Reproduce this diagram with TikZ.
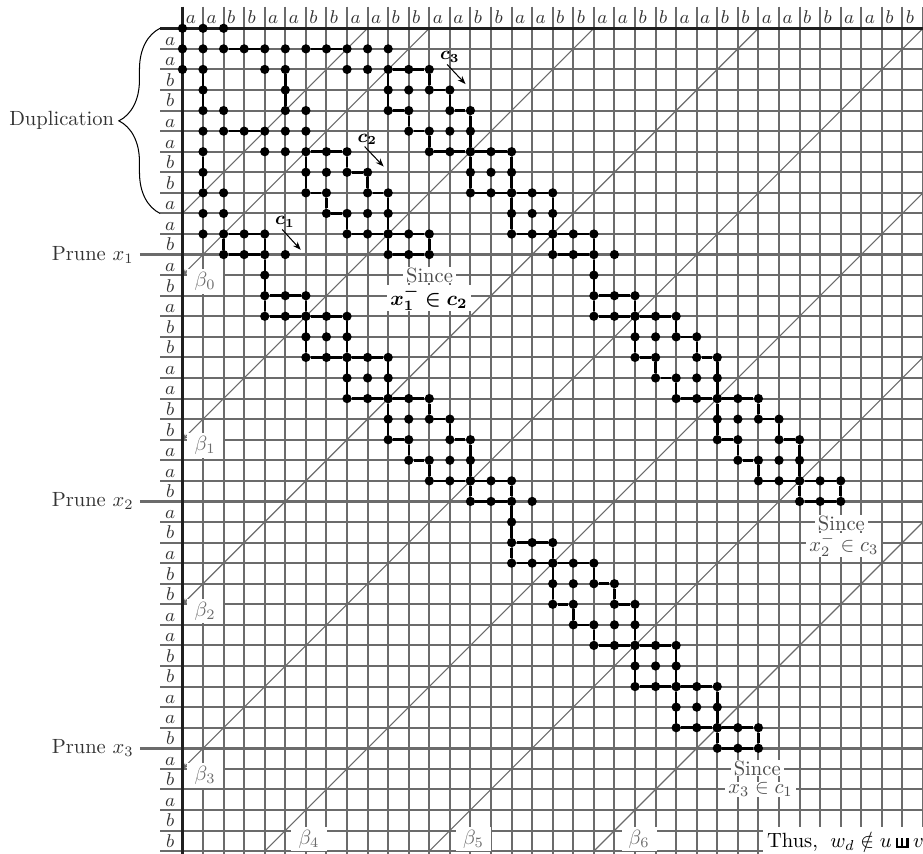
\documentclass[tikz,border=0pt]{standalone}
\usepackage{bm}
\usetikzlibrary{decorations.pathreplacing,arrows.meta}
\newcommand{\shuf}{\mathbin{\hbox{\rule{1pt}{4.8pt}\kern1.5pt\rule{1pt}{4.8pt}\kern1.5pt\rule{1pt}{4.8pt}\kern-6pt\rule{6pt}{1pt}}}}
\newcommand{\blk}[4]{%
  \foreach \ua/\va in {#3}{%
    \pgfmathtruncatemacro{\xx}{#1+\ua}\pgfmathtruncatemacro{\yy}{#2+\va}%
    \node[dot] (p\xx-\yy) at (\xx,\yy) {};}%
  \foreach \ua/\va/\ub/\vb in {#4}{%
    \pgfmathtruncatemacro{\xa}{#1+\ua}\pgfmathtruncatemacro{\ya}{#2+\va}%
    \pgfmathtruncatemacro{\xb}{#1+\ub}\pgfmathtruncatemacro{\yb}{#2+\vb}%
    \draw[edg] (p\xa-\ya) -- (p\xb-\yb);}%
}
\newcommand{\blkW}[2]{\blk{#1}{#2}{0/0,1/0,2/0,0/1,1/1,2/1,3/1,0/2,1/2,3/2,4/2,1/3,2/3,3/3,4/3,2/4,3/4,4/4}{0/0/2/0,2/1/3/1,0/2/1/2,3/2/4/2,1/3/2/3,2/4/4/4,0/0/0/2,1/2/1/3,2/0/2/1,2/3/2/4,3/1/3/2,4/2/4/4}}
\newcommand{\blkS}[2]{\blk{#1}{#2}{0/0,1/0,2/0,0/1,1/1,2/1,0/2,1/2,2/2}{0/0/2/0,0/2/2/2,0/0/0/2,2/0/2/2}}
\newcommand{\blkE}[2]{\blk{#1}{#2}{0/0,1/0,2/0,0/1,1/1,2/1}{0/0/2/0,0/1/2/1,0/0/0/1,2/0/2/1}}
\begin{document}
\begin{tikzpicture}[x=10pt,y=-10pt,
  gridln/.style={line width=1pt, black!58},
  prune/.style={line width=1.6pt, black!58},
  border/.style={line width=1.6pt, black!88},
  diag/.style={line width=0.55pt, black!58},
  edg/.style={line width=1.2pt, black},
  dot/.style={circle, fill=black, inner sep=0pt, minimum size=4.5pt},
  lett/.style={inner sep=0pt, font=\small, text=black!80},
  betalab/.style={fill=white, text=black!58, inner xsep=3.5pt, inner ysep=1.5pt},
  since/.style={fill=white, text=black!70, inner xsep=1.5pt, inner ysep=0.2pt},
  clab/.style={inner sep=1pt, font=\small},
  carrow/.style={-{Stealth[length=4pt,width=3pt]}, line width=0.5pt},
  sidetext/.style={text=black!80, inner sep=1pt},
]
\useasboundingbox (-8.87,-1.375) rectangle (36,40.12);
% grid
\foreach \r in {1,...,40} \draw[gridln] (-1.09,\r) -- (36.3,\r);
\foreach \c in {1,...,36} \draw[gridln] (\c,-1.05) -- (\c,40.3);
% diagonals
\draw[diag] (9,0) -- (0,9);
\foreach \s in {12,20,28,36} \draw[diag,-{Stealth[length=3pt,width=2.4pt]}] (\s,0) -- (0,\s);
\draw[diag] (36,8) -- (4,40);
\draw[diag] (36,16) -- (12,40);
\draw[diag] (36,24) -- (20,40);
% prune lines and borders
\foreach \r in {11,23,35} \draw[prune] (-2.07,\r) -- (36.3,\r);
\draw[border] (-1.09,0) -- (36.3,0);
\draw[border] (0,-1.05) -- (0,40.3);
% top letters
\foreach \L [count=\i from 0] in {a,a,b,b,a,a,b,b,a,a,b,b,a,a,b,b,a,a,b,b,a,a,b,b,a,a,b,b,a,a,b,b,a,a,b,b}
  \node[lett, anchor=base west] (tp\i) at (\i+0.15,-0.25) {$\L$};
% left letters
\foreach \L [count=\i] in {a,a,b,b,a,a,b,b,a,a,b, a,b,a,b,b,a,a,b,b,a,a,b, a,b,a,b,b,a,a,b,b,a,a,b, a,b,a,b,b}
  \node[lett, anchor=base] (lf\i) at (-0.6,\i-0.18) {$\L$};
% brace and side labels
\draw[decorate, decoration={brace, amplitude=20pt}, line width=0.5pt] (-1.09,9) -- (-1.09,0);
\node[sidetext, anchor=east] (dup) at (-3.2,4.5) {Duplication};
\node[sidetext, anchor=east] (pr1) at (-2.25,11) {Prune $x_1$};
\node[sidetext, anchor=east] (pr2) at (-2.25,23) {Prune $x_2$};
\node[sidetext, anchor=east] (pr3) at (-2.25,35) {Prune $x_3$};
% beta labels
\node[betalab] (b0) at (1.1,12.3) {$\beta_0$};
\node[betalab] (b1) at (1.1,20.28) {$\beta_1$};
\node[betalab] (b2) at (1.1,28.33) {$\beta_2$};
\node[betalab] (b3) at (1.1,36.33) {$\beta_3$};
\node[betalab] (b4) at (6.15,39.42) {$\beta_4$};
\node[betalab] (b5) at (14.15,39.42) {$\beta_5$};
\node[betalab] (b6) at (22.2,39.42) {$\beta_6$};
% top-left cluster
\blk{0}{0}{0/0,1/0,2/0,0/1,1/1,2/1,3/1,4/1,5/1,6/1,7/1,8/1,9/1,10/1,0/2,1/2,4/2,5/2,8/2,9/2,1/3,5/3,1/4,2/4,5/4,6/4,1/5,2/5,3/5,4/5,5/5,6/5,1/6,4/6,5/6,1/7,1/8,2/8,1/9,2/9,1/10}{2/1/4/1,6/1/8/1,1/2/1/4,5/2/5/4,2/5/4/5,1/6/1/8}
% chain c2
\blkW{6}{6}
\blkE{10}{10}
% chain c3
\blkW{10}{2}
\blkS{14}{6}
\blkS{16}{8}
\blkE{18}{10}
\blkE{20}{13}
\blkW{22}{14}
\blkW{26}{18}
\blkE{30}{22}
% chain c1
\blkE{2}{10}
\blkE{4}{13}
\blkS{6}{14}
\blkS{8}{16}
\blkW{10}{18}
\blkE{14}{22}
\blkE{16}{25}
\blkW{18}{26}
\blkS{22}{30}
\blkS{24}{32}
\blkE{26}{34}
% extra dots and links
\blk{0}{0}{5/11,4/12,21/11,20/12,17/23,16/24}{4/11/4/13,20/11/20/13,16/23/16/25}
% c labels
\node[clab] (c1) at (4.98,9.41) {$\bm{c_1}$};
\coordinate (c1t) at (5.75,10.77);
\draw[carrow] (c1.250) -- (c1t);
\node[clab] (c2) at (8.99,5.38) {$\bm{c_2}$};
\coordinate (c2t) at (9.78,6.72);
\draw[carrow] (c2.250) -- (c2t);
\node[clab] (c3) at (13.0,1.39) {$\bm{c_3}$};
\coordinate (c3t) at (13.76,2.71);
\draw[carrow] (c3.250) -- (c3t);
% since labels
\node[since] (s1a) at (12.01,12.0) {Since};
\node[since, text=black] (s1b) at (11.98,13.12) {$\bm{x_1^-\in c_2}$};
\node[since] (s2a) at (32.03,24.06) {Since};
\node[since] (s2b) at (32.15,25.12) {$x_2^-\in c_3$};
\node[since] (s3a) at (27.94,35.96) {Since};
\node[since] (s3b) at (28.1,37.0) {$x_3\in c_1$};
% conclusion
\node[fill=white, anchor=base west, inner xsep=2pt, inner ysep=2.7pt] (thus) at (28.2,39.83) {Thus,\hspace{0.6em}$w_d\notin u\shuf v$\hspace{2pt}};
\end{tikzpicture}
\end{document}
